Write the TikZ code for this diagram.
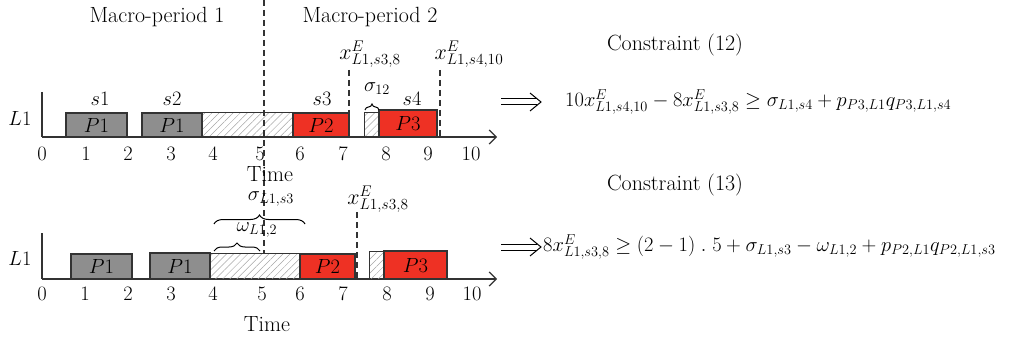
\RequirePackage{fix-cm}
\documentclass[tikz,border=0pt]{standalone}
\usetikzlibrary{patterns.meta,decorations.pathreplacing,arrows.meta}
\definecolor{edge}{HTML}{333333}
\definecolor{boxgray}{HTML}{8E8E8E}
\definecolor{boxred}{HTML}{EE3124}
\begin{document}
\begin{tikzpicture}[x=1pt,y=-1pt,
  every node/.style={font=\fontsize{20.5}{24}\selectfont, inner sep=0pt},
  txt/.style={font=\fontsize{22}{26}\selectfont},
  xlab/.style={font=\fontsize{22}{26}\selectfont},
  gbox/.style={draw=edge, line width=1.3pt, fill=boxgray},
  rbox/.style={draw=edge, line width=1.3pt, fill=boxred},
  hbox/.style={draw=edge, line width=1pt, pattern={Lines[angle=45,distance=5pt,line width=0.5pt]}, pattern color=gray!70},
  axis/.style={line width=1.2pt, draw=edge, -{Straight Barb[length=7pt,width=14pt]}},
  vline/.style={line width=1.2pt, draw=edge},
  dline/.style={line width=1.2pt, draw=edge, dash pattern=on 6pt off 4pt},
  brc/.style={decorate, decoration={brace, amplitude=#1}, line width=1pt, draw=black},
  brc/.default=6pt,
  impl/.style={draw=black, line width=1pt}
]
\useasboundingbox (0,0) rectangle (1016,339);

% ---------- top chart ----------
\node[txt] (mp1) at (157,17) {Macro-period 1};
\node[txt] (mp2) at (370,17) {Macro-period 2};
\node (La) at (20,118) {$L1$};
\coordinate (ya0) at (42,92);
\coordinate (oa) at (42,137);
\coordinate (ea) at (497,137);
\draw[vline] (ya0) -- (oa);
\draw[axis] (oa) -- (ea);
\foreach \v/\x in {0/42,1/86,2/128,3/171,4/213,5/260,6/300,7/343,8/386,9/428,10/471}
  \node at (\x,154) {\v};

\node[gbox, minimum width=61pt, minimum height=24pt] (a1) at (96.5,125) {$P1$};
\node[gbox, minimum width=60pt, minimum height=24pt] (a2) at (172,125) {$P1$};
\node[hbox, minimum width=91pt, minimum height=24pt] (ah1) at (247.5,125) {};
\node[rbox, minimum width=56pt, minimum height=24pt] (a3) at (321,125) {$P2$};
\node[hbox, minimum width=15pt, minimum height=24pt] (ah2) at (371.5,125) {};
\node[rbox, minimum width=58pt, minimum height=27pt] (a4) at (408,123.5) {$P3$};

\node (s1) at (100,99) {$s1$};
\node (s2) at (172,99) {$s2$};
\node (s3) at (322,99) {$s3$};
\node (s4) at (412,99) {$s4$};

\coordinate (bra) at (365,110);
\coordinate (brb) at (379,110);
\draw[brc=6pt] (bra) -- (brb);
\node (sig12) at (377,89) {$\sigma_{12}$};

\node[xlab] (xa) at (370,54) {$x^E_{L1,s3,8}$};
\node[xlab] (xb) at (469,54) {$x^E_{L1,s4,10}$};
\coordinate (da1) at (349,70); \coordinate (da2) at (349,137);
\coordinate (db1) at (440,70); \coordinate (db2) at (440,137);
\draw[dline] (da1) -- (da2);
\draw[dline] (db1) -- (db2);

\coordinate (m1) at (264,0); \coordinate (m2) at (264,253);
\draw[dline] (m1) -- (m2);
\node[txt] (timea) at (270,174) {Time};

% ---------- bottom chart ----------
\node (Lb) at (20,258) {$L1$};
\coordinate (yb0) at (42,233);
\coordinate (ob) at (42,279);
\coordinate (eb) at (497,279);
\draw[vline] (yb0) -- (ob);
\draw[axis] (ob) -- (eb);
\foreach \v/\x in {0/42,1/85,2/128,3/171,4/213,5/262,6/300,7/343,8/387,9/430,10/472}
  \node at (\x,294) {\v};

\node[gbox, minimum width=61pt, minimum height=25pt] (b1) at (101.5,266.5) {$P1$};
\node[gbox, minimum width=60pt, minimum height=26pt] (b2) at (180,266) {$P1$};
\node[hbox, minimum width=90pt, minimum height=26pt] (bh1) at (255,266) {};
\node[rbox, minimum width=55pt, minimum height=25pt] (b3) at (327.5,266.5) {$P2$};
\node[hbox, minimum width=15pt, minimum height=28pt] (bh2) at (376.5,265) {};
\node[rbox, minimum width=63pt, minimum height=28pt] (b4) at (415.5,265) {$P3$};

\coordinate (dc1) at (357,212); \coordinate (dc2) at (357,279);
\draw[dline] (dc1) -- (dc2);
\node[xlab] (xc) at (378,199) {$x^E_{L1,s3,8}$};

\coordinate (bs1) at (214,224); \coordinate (bs2) at (305,224);
\draw[brc=9pt] (bs1) -- (bs2);
\node (sigb) at (271,199) {$\sigma_{L1,s3}$};
\coordinate (bw1) at (214,251); \coordinate (bw2) at (260,251);
\draw[brc=8pt] (bw1) -- (bw2);
\node (om) at (257,230) {$\omega_{L1,2}$};
\node[txt] (timeb) at (267,324) {Time};

% ---------- constraints ----------
\node[txt] (c12) at (675,45) {Constraint (12)};
\draw[impl] (501,99) -- (537,99) (501,105) -- (537,105);
\draw[impl, line join=miter] (530,93) -- (541,102) -- (530,111);
\node[anchor=west] (f1) at (565,102) {$10x^E_{L1,s4,10}-8x^E_{L1,s3,8}\geq\sigma_{L1,s4}+p_{P3,L1}q_{P3,L1,s4}$};
\node[txt] (c13) at (675,185) {Constraint (13)};
\draw[impl] (501,244) -- (537,244) (501,250) -- (537,250);
\draw[impl, line join=miter] (530,238) -- (541,247) -- (530,256);
\node[anchor=west] (f2) at (543,247) {$8x^E_{L1,s3,8}\geq(2-1)\;.\;5+\sigma_{L1,s3}-\omega_{L1,2}+p_{P2,L1}q_{P2,L1,s3}$};
\end{tikzpicture}
\end{document}
